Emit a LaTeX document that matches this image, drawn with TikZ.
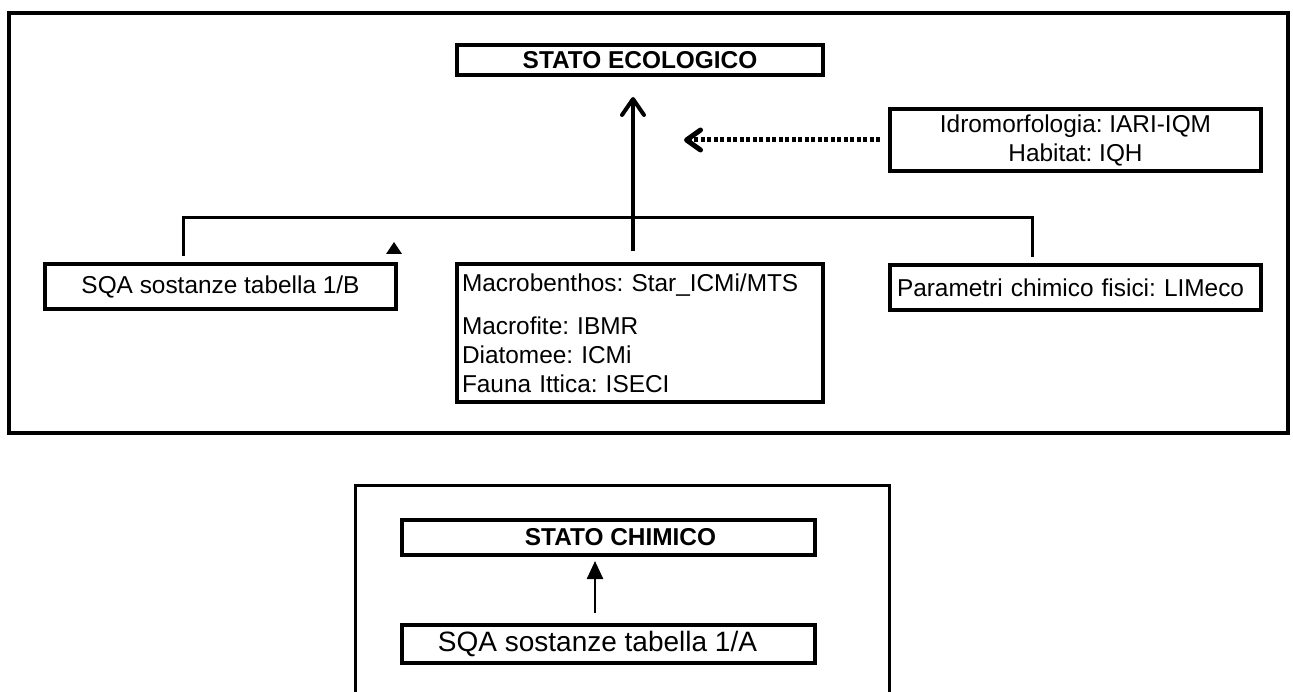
\documentclass[tikz,border=0pt]{standalone}
\usepackage{fontspec}
\setmainfont{Liberation Sans}
\usetikzlibrary{arrows.meta}
\begin{document}
\frenchspacing
\begin{tikzpicture}[x=1pt,y=-1pt,
  every node/.style={font=\fontsize{24.4}{29}\selectfont\frenchspacing, outer sep=0pt},
  box/.style={draw, line width=4pt, inner sep=0pt, align=center},
  boldtxt/.style={font=\fontsize{24.4}{29}\selectfont\bfseries},
  bigtxt/.style={font=\fontsize{28}{32}\selectfont},
  frame/.style={draw, line width=4pt},
  bus/.style={line width=3pt},
  mainarrow/.style={line width=4pt, -{Straight Barb[length=16pt,width=22pt,line cap=round,line join=round]}},
  dotarrow/.style={line width=5pt, dash pattern=on 4pt off 2.5pt, -{Straight Barb[length=14pt,width=20pt,line cap=round,line join=round]}},
  chemarrow/.style={line width=2.5pt, -{Triangle[length=18pt,width=16pt]}}
]
\useasboundingbox (0,0) rectangle (1293,692);
% frames
\draw[frame] (9,13) rectangle (1288,433);
\draw[line width=3pt] (355,692) -- (355,485) -- (889,485) -- (889,692);

% nodes
\node[box, boldtxt, minimum width=366pt, minimum height=30pt] (eco) at (640,60) {STATO ECOLOGICO};
\node[box, minimum width=371pt, minimum height=62pt] (idro) at (1075.5,140) {Idromorfologia: IARI-IQM\\Habitat: IQH};
\node[box, minimum width=351pt, minimum height=45pt] (sqab) at (220.5,286.5) {SQA sostanze tabella 1/B};
\node[box, minimum width=366pt, minimum height=138pt, text width=356pt, align=left, inner xsep=5pt] (macro) at (640,333.5) {Macrobenthos: Star\_ICMi/MTS\\[14pt]Macrofite: IBMR\\Diatomee: ICMi\\Fauna Ittica: ISECI};
\node[box, minimum width=371pt, minimum height=45pt, text width=357pt, align=left, inner xsep=7pt] (param) at (1075.5,287.5) {Parametri chimico fisici: LIMeco};
\node[box, boldtxt, minimum width=413pt, minimum height=35pt] (chim) at (608.5,537.5) {\kern24pt STATO CHIMICO};
\node[box, bigtxt, minimum width=413pt, minimum height=38pt] (sqaa) at (608.5,644) {SQA sostanze tabella 1/A\kern22pt};

% bus connector
\coordinate (bl) at (183,256);
\coordinate (blt) at (183,218);
\coordinate (brt) at (1032,218);
\coordinate (br) at (1032,257);
\draw[bus] (bl) -- (blt) -- (brt) -- (br);

% stray arrowhead
\fill (386,254) -- (402,254) -- (394,242) -- cycle;

% arrows
\draw[mainarrow, shorten <=13pt, shorten >=22pt] ([xshift=-7pt]macro.north) -- ([xshift=-7pt]eco.south);
\coordinate (dotend) at (684,140);
\draw[dotarrow, shorten <=10pt] (idro.west) -- (dotend);
\draw[chemarrow, shorten <=12pt, shorten >=6pt] ([xshift=-13.5pt]sqaa.north) -- ([xshift=-13.5pt]chim.south);
\end{tikzpicture}
\end{document}
